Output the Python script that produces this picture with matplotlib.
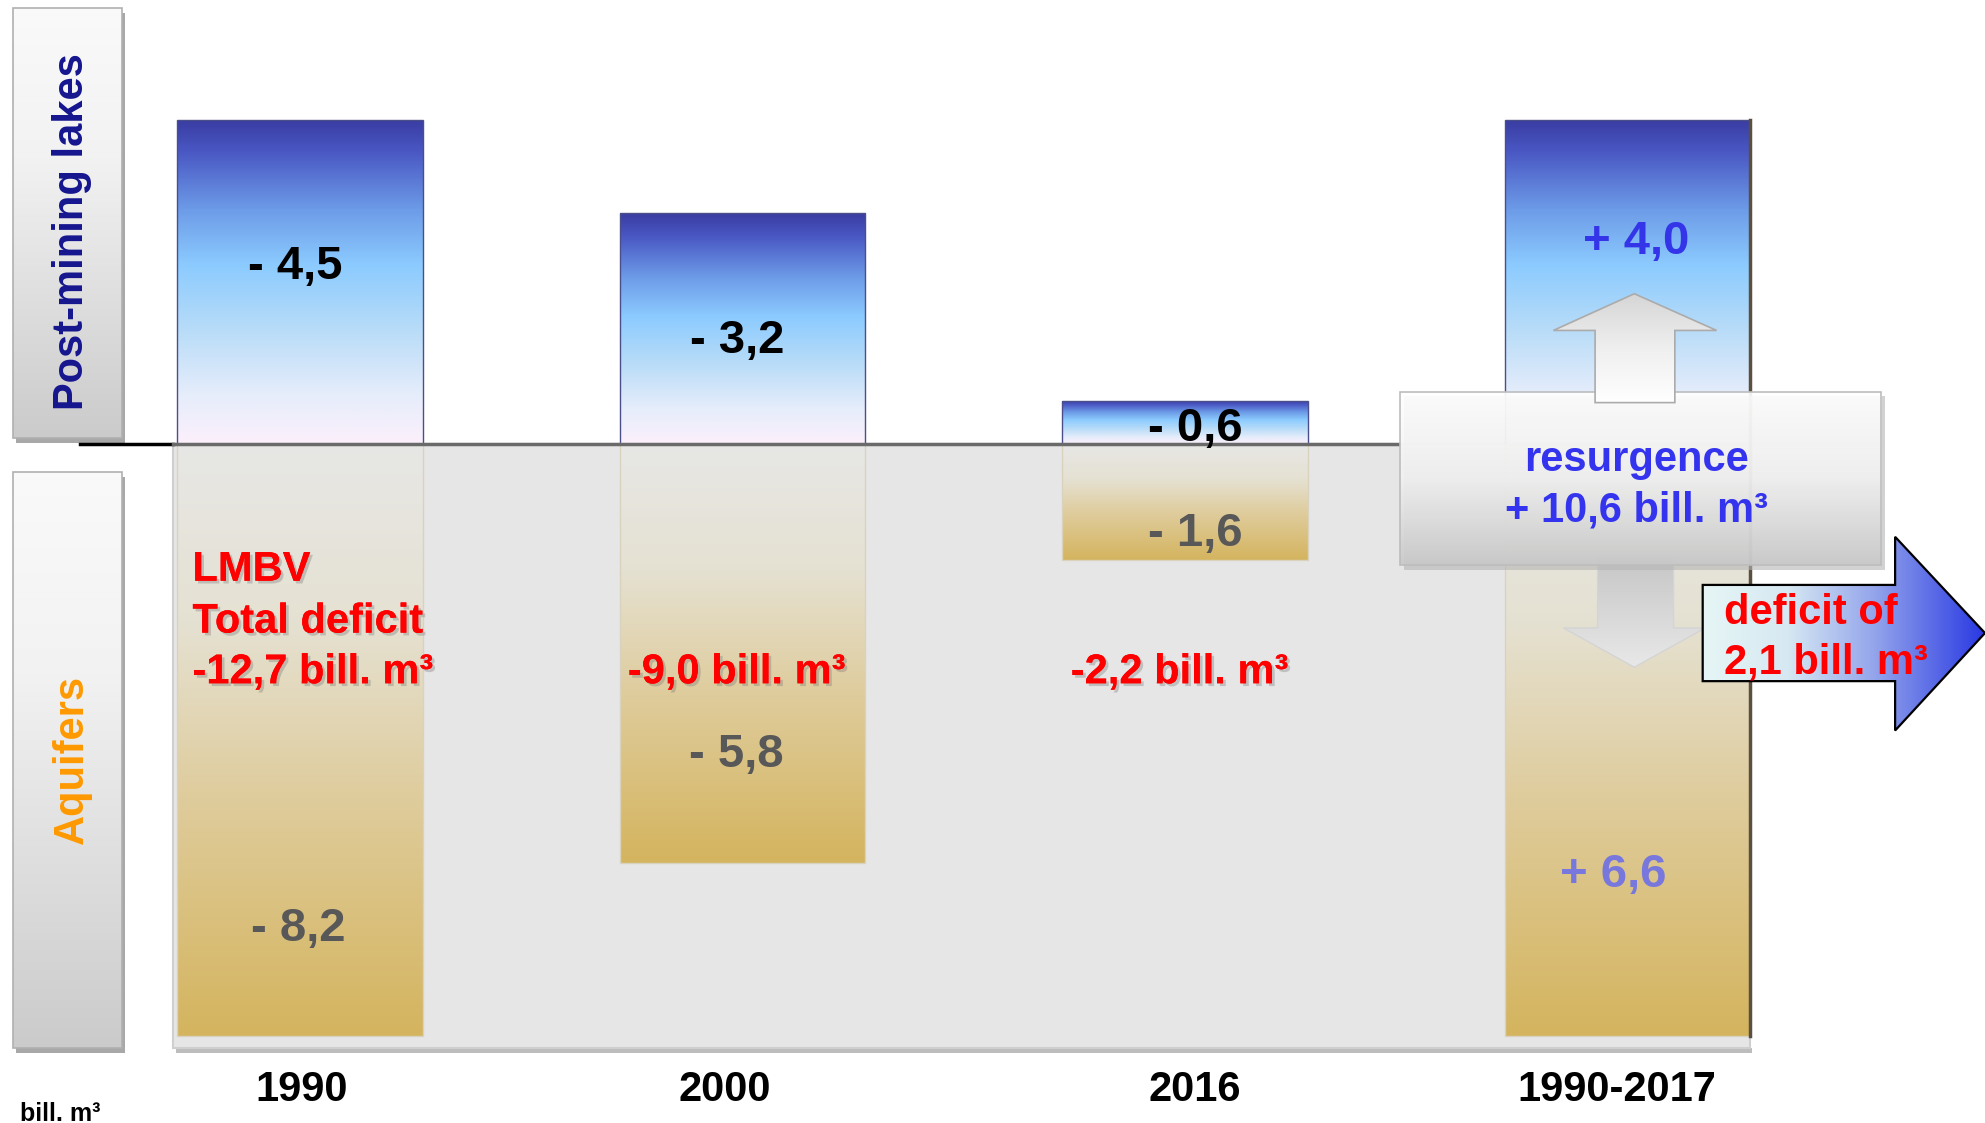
import numpy as np
import matplotlib
matplotlib.use("Agg")
import matplotlib.pyplot as plt
from matplotlib.colors import LinearSegmentedColormap
from matplotlib.patches import Rectangle, Polygon
import matplotlib.patheffects as pe

plt.rcParams['font.family'] = ['Liberation Sans', 'DejaVu Sans']
plt.rcParams['font.weight'] = 'bold'

# data (bill. m3)
periods = ['1990', '2000', '2016', '1990-2017']
lake_change = [-4.5, -3.2, -0.6, 4.0]
aquifer_change = [-8.2, -5.8, -1.6, 6.6]
total_deficit = [-12.7, -9.0, -2.2]
resurgence = 10.6
remaining_deficit = 2.1


def fmt(v, sign=True):
    s = f"{abs(v):.1f}".replace('.', ',')
    if not sign:
        return ('-' if v < 0 else '') + s
    return ('- ' if v < 0 else '+ ') + s


# layout helpers: reference pixel grid (1568 x 887) -> data coords
def X(px):
    return (px - 237) / 349.5


def Y(py):
    return (351 - py) / 57.0


def TY(py):
    # text anchor, nudged to match the reference baseline
    return Y(py + 3)


def vgrad(ax, x0, x1, y0, y1, stops, z, alpha=1.0, clip=None):
    cmap = LinearSegmentedColormap.from_list('g', stops)
    arr = np.linspace(0, 1, 256).reshape(-1, 1)
    im = ax.imshow(arr, cmap=cmap, extent=(x0, x1, y0, y1), origin='upper',
                   aspect='auto', zorder=z, alpha=alpha, interpolation='bilinear')
    if clip is not None:
        im.set_clip_path(clip)
    return im


def hgrad(ax, x0, x1, y0, y1, stops, z, clip=None):
    cmap = LinearSegmentedColormap.from_list('h', stops)
    arr = np.linspace(0, 1, 256).reshape(1, -1)
    im = ax.imshow(arr, cmap=cmap, extent=(x0, x1, y0, y1), origin='upper',
                   aspect='auto', zorder=z, interpolation='bilinear')
    if clip is not None:
        im.set_clip_path(clip)
    return im


lake_stops = [(0, '#393ca2'), (0.1, '#4a58c4'), (0.28, '#6d9ce8'), (0.45, '#8ccbff'),
              (0.65, '#b8dcf8'), (0.85, '#e6edfb'), (1.0, '#fcf0fb')]
aq_stops = [(0, '#e7e7e5'), (0.3, '#e5e1d2'), (0.6, '#dfcc9c'), (1.0, '#d4b45e')]
box_stops = [(0, '#ffffff'), (0.5, '#f1f1f1'), (1.0, '#c9c9c9')]

fig = plt.figure(figsize=(19.85, 11.23), dpi=100)
ax = fig.add_axes([0, 0, 1, 1])
ax.axis('off')

x = np.arange(len(periods))
width = 0.555

# the 1990-2017 column spans the 1990 deficit
lake_span = [abs(v) for v in lake_change[:3]] + [abs(lake_change[0])]
aq_span = [-abs(v) for v in aquifer_change[:3]] + [-abs(aquifer_change[0])]

# grey aquifer panel
panel = Rectangle((X(137), Y(828)), X(1382) - X(137), Y(351) - Y(828),
                  facecolor='#e6e6e6', edgecolor='#cfcfcf', lw=1.5, zorder=1)
ax.add_patch(panel)
ax.add_patch(Rectangle((X(139), Y(832)), X(1384) - X(139), Y(828) - Y(832),
                       facecolor='#bdbdbd', edgecolor='none', zorder=0.9))

# left side label boxes
for top, bot in [(6, 346), (373, 828)]:
    ax.add_patch(Rectangle((X(13), Y(bot + 4)), X(99) - X(13), Y(top + 4) - Y(bot + 4),
                           facecolor='#a8a8a8', edgecolor='none', zorder=1))
    r = Rectangle((X(10), Y(bot)), X(96) - X(10), Y(top) - Y(bot),
                  facecolor='none', edgecolor='#b0b0b0', lw=1.2, zorder=2.5)
    ax.add_patch(r)
    vgrad(ax, X(10), X(96), Y(bot), Y(top),
          [(0, '#fafafa'), (0.35, '#f2f2f2'), (1.0, '#cbcbcb')], 2, clip=r)

ax.text(X(57), Y(183), 'Post-mining lakes', rotation=90, ha='center', va='center',
        fontsize=30, color='#15158e', zorder=6)
ax.text(X(57), Y(600), 'Aquifers', rotation=90, ha='center', va='center',
        fontsize=30, color='#ff9900', zorder=6)

# bars
lake_bars = ax.bar(x, lake_span, width=width, facecolor='none', edgecolor='#4a4f8a',
                   lw=1.0, zorder=3)
aq_bars = ax.bar(x, aq_span, width=width, facecolor='none', edgecolor='#d9d2bf',
                 lw=1.0, zorder=3)
for rect in lake_bars:
    x0, w, h = rect.get_x(), rect.get_width(), rect.get_height()
    vgrad(ax, x0, x0 + w, 0, h, lake_stops, 2.5, clip=rect)
for rect in aq_bars:
    x0, w, h = rect.get_x(), rect.get_width(), rect.get_height()
    vgrad(ax, x0, x0 + w, h, 0, aq_stops, 2.5, clip=rect)
# darker right edge of the summary column
last = lake_bars[-1]
ax.plot([last.get_x() + width] * 2, [aq_span[-1], lake_span[-1]], color='#5a5040',
        lw=2.5, zorder=3.1)

# zero line
ax.plot([X(63), X(137)], [0, 0], color='black', lw=2.5, zorder=3.5)
ax.plot([X(137), X(1105)], [0, 0], color='#6a6a6a', lw=2.5, zorder=3.5)

# value labels
lake_lab_y = [TY(208), TY(266), TY(336), TY(188)]
lake_lab_dx = [-0.01, -0.012, 0.023, 0.02]
aq_lab_y = [TY(731), TY(593), TY(419), TY(688)]
aq_lab_dx = [-0.003, -0.014, 0.023, -0.032]
lake_cols = ['black', 'black', 'black', '#3434e8']
aq_cols = ['#585858', '#585858', '#585858', '#7777dd']
for i, v in enumerate(lake_change):
    ax.text(x[i] + lake_lab_dx[i], lake_lab_y[i], fmt(v), ha='center', va='center',
            fontsize=34, color=lake_cols[i], zorder=6)
for i, v in enumerate(aquifer_change):
    ax.text(x[i] + aq_lab_dx[i], aq_lab_y[i], fmt(v), ha='center', va='center',
            fontsize=34, color=aq_cols[i], zorder=6)

# red totals
shadow = [pe.withSimplePatchShadow(offset=(2, -2), shadow_rgbFace='#777777', alpha=0.35),
          pe.Normal()]
for txt, py in [('LMBV', 447), ('Total deficit', 488),
                (fmt(total_deficit[0], False) + ' bill. m³', 528)]:
    ax.text(X(152), TY(py), txt, ha='left', va='center', fontsize=30, color='#ff0000',
            zorder=6, path_effects=shadow)
for i, dx in [(1, -0.013), (2, -0.012)]:
    ax.text(x[i] + dx, TY(528), fmt(total_deficit[i], False) + ' bill. m³', ha='center',
            va='center', fontsize=30, color='#ff0000', zorder=6, path_effects=shadow)

# period labels
per_dx = [0.003, -0.04, 0.023, -0.024]
for i, p in enumerate(periods):
    ax.text(x[i] + per_dx[i], TY(858), p, ha='center', va='center', fontsize=30,
            color='black', zorder=6)
ax.text(X(16), TY(877), 'bill. m³', ha='left', va='center', fontsize=18,
        color='black', zorder=6)

# down arrow (behind box)
down = Polygon([(X(1262), Y(440)), (X(1322), Y(440)), (X(1322), Y(496)), (X(1347), Y(496)),
                (X(1291), Y(527)), (X(1235), Y(496)), (X(1262), Y(496))],
               closed=True, facecolor='none', edgecolor='#d4d4d4', lw=1, zorder=4.1)
ax.add_patch(down)
vgrad(ax, X(1235), X(1347), Y(527), Y(440), [(0, '#c6c6c6'), (1, '#e8e8e8')], 4, clip=down)

# resurgence box
box = Rectangle((X(1106), Y(446)), X(1486) - X(1106), Y(310) - Y(446),
                facecolor='none', edgecolor='#bdbdbd', lw=1.2, zorder=4.6)
ax.add_patch(Rectangle((X(1109), Y(450)), X(1489) - X(1109), Y(313) - Y(450),
                       facecolor='#b5b5b5', edgecolor='none', alpha=0.6, zorder=4.2))
ax.add_patch(box)
vgrad(ax, X(1106), X(1486), Y(446), Y(310), box_stops, 4.5, alpha=0.92, clip=box)
ax.text(X(1293), TY(360), 'resurgence', ha='center', va='center', fontsize=30,
        color='#3434ee', zorder=6)
ax.text(X(1293), TY(400), '+ ' + f"{resurgence:.1f}".replace('.', ',') + ' bill. m³',
        ha='center', va='center', fontsize=30, color='#3434ee', zorder=6)

# up arrow
up = Polygon([(X(1291), Y(232)), (X(1356), Y(261)), (X(1323), Y(261)), (X(1323), Y(318)),
              (X(1260), Y(318)), (X(1260), Y(261)), (X(1227), Y(261))],
             closed=True, facecolor='none', edgecolor='#ababab', lw=1.2, zorder=5.1)
ax.add_patch(up)
vgrad(ax, X(1227), X(1356), Y(318), Y(232), [(0, '#d6d6d6'), (0.5, '#efefef'), (1, '#ffffff')],
      5, clip=up)

# remaining deficit arrow
blue = Polygon([(X(1345), Y(462)), (X(1497), Y(462)), (X(1497), Y(424)), (X(1568), Y(500)),
                (X(1497), Y(577)), (X(1497), Y(538)), (X(1345), Y(538))],
               closed=True, facecolor='none', edgecolor='black', lw=1.6, zorder=5.6)
ax.add_patch(blue)
hgrad(ax, X(1345), X(1568), Y(577), Y(424),
      [(0, '#e6f6f6'), (0.3, '#d6e8f2'), (0.6, '#95a6ec'), (1, '#2838e2')], 5.5, clip=blue)
ax.text(X(1362), TY(481), 'deficit of', ha='left', va='center', fontsize=30,
        color='#ff0000', zorder=6)
ax.text(X(1362), TY(520), f"{remaining_deficit:.1f}".replace('.', ',') + ' bill. m³',
        ha='left', va='center', fontsize=30, color='#ff0000', zorder=6)

ax.set_xlim(X(0), X(1568))
ax.set_ylim(Y(887), Y(0))

fig.savefig('out.png', dpi=100)
